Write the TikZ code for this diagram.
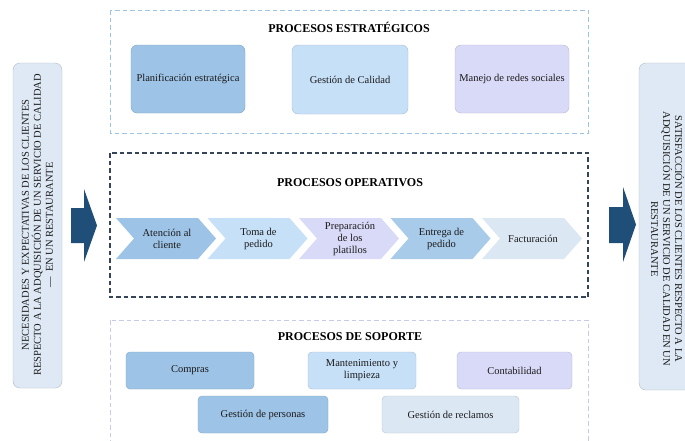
\documentclass[tikz,border=0pt]{standalone}
\usepackage{fontspec}
\setmainfont{Liberation Serif}
\usepackage{tikz}
\usetikzlibrary{arrows.meta, positioning, calc}
\usepackage{xcolor}

\definecolor{midblue}{HTML}{9DC3E6}
\definecolor{paleblue}{HTML}{C6E0F8}
\definecolor{lavender}{HTML}{D9D9F8}
\definecolor{softblue}{HTML}{A8CBEA}
\definecolor{mistblue}{HTML}{DCE7F4}
\definecolor{sidefill}{HTML}{DEE9F5}
\definecolor{navyarrow}{HTML}{1F4E79}
\definecolor{opframe}{HTML}{36445A}
\definecolor{supframe}{HTML}{C6CBEA}
\definecolor{inktext}{HTML}{1A1A1A}

\begin{document}
\begin{tikzpicture}[x=1pt, y=-1pt,
    box/.style={rounded corners=6pt, fill=#1, draw=#1!85!black, line width=0.4pt,
        text=inktext, align=center, font=\fontsize{10.5}{12}\selectfont, inner sep=2pt},
    smallbox/.style={box=#1, rounded corners=4pt},
    frame/.style={dash pattern=on 4.5pt off 3pt, line width=0.8pt},
    heading/.style={font=\fontsize{12}{14}\selectfont\bfseries, text=black},
    sidebox/.style={rounded corners=7pt, fill=sidefill, draw=sidefill!80!black, line width=0.4pt},
    sidetext/.style={align=center, text=inktext, font=\fontsize{10.5}{12}\selectfont}]
    \clip (0,0) rectangle (685,440);
    \fill[white] (0,0) rectangle (685,440);

    % side boxes
    \draw[sidebox] (13,63) rectangle (62,388);
    \node[sidetext, rotate=90] (needs) at (37.5,225) {NECESIDADES Y EXPECTATIVAS DE LOS CLIENTES\\
        RESPECTO A LA ADQUISICIÓN DE UN SERVICIO DE CALIDAD\\
        — \ EN UN RESTAURANTE};
    \draw[sidebox] (639,63) rectangle (700,390);
    \node[sidetext, rotate=-90] (satis) at (667.5,239) {SATISFACCIÓN DE LOS CLIENTES RESPECTO A LA\\
        ADQUISICIÓN DE UN SERVICIO DE CALIDAD EN UN\\
        RESTAURANTE};

    % block arrows
    \fill[navyarrow] (71,208) -- (84,208) -- (84,189) -- (97,225.5) -- (84,262) -- (84,243) -- (71,243) -- cycle;
    \fill[navyarrow] (609,207) -- (623,207) -- (623,187) -- (636,224.5) -- (623,262) -- (623,243) -- (609,243) -- cycle;

    % procesos estrategicos
    \draw[frame, midblue] (110,10) rectangle (588,133);
    \node[heading] (estr) at (349,27) {PROCESOS ESTRATÉGICOS};
    \node[box=midblue, minimum width=114pt, minimum height=68pt] (plan) at (188,79) {Planificación estratégica};
    \node[box=paleblue, minimum width=116pt, minimum height=69pt] (cal) at (350,79.5) {Gestión de Calidad};
    \node[box=lavender, minimum width=114pt, minimum height=68pt] (redes) at (512,79) {Manejo de redes sociales};

    % procesos operativos
    \draw[frame, opframe, line width=1.3pt] (110,153) rectangle (588,297);
    \node[heading] (oper) at (350,183) {PROCESOS OPERATIVOS};
    \foreach \x/\c/\t [count=\i] in {116/midblue/Atención al\\cliente,
                                    207.5/paleblue/Toma de\\pedido,
                                    299/lavender/Preparación\\de los\\platillos,
                                    390.5/softblue/Entrega de\\pedido,
                                    482/mistblue/Facturación}{
        \fill[\c] (\x,218) -- ++(82,0) -- ++(18,20.5) -- ++(-18,20.5) -- ++(-82,0) -- ++(18,-20.5) -- cycle;
        \node[align=center, text=inktext, font=\fontsize{10.5}{12}\selectfont] (op\i) at (\x+51,238.5) {\t};
    }

    % procesos de soporte
    \draw[frame, supframe] (110,320) rectangle (588,460);
    \node[heading] (sop) at (350,337) {PROCESOS DE SOPORTE};
    \node[smallbox=midblue, minimum width=128pt, minimum height=37pt] (compras) at (190,370.5) {Compras};
    \node[smallbox=paleblue, minimum width=108pt, minimum height=37pt] (mant) at (362,370.5) {Mantenimiento y\\limpieza};
    \node[smallbox=lavender, minimum width=115pt, minimum height=37pt] (cont) at (514.5,370.5) {Contabilidad};
    \node[smallbox=midblue, minimum width=130pt, minimum height=37pt] (pers) at (263,414.5) {Gestión de personas};
    \node[smallbox=mistblue, minimum width=137pt, minimum height=37pt] (recl) at (450.5,414.5) {Gestión de reclamos};
\end{tikzpicture}
\end{document}
